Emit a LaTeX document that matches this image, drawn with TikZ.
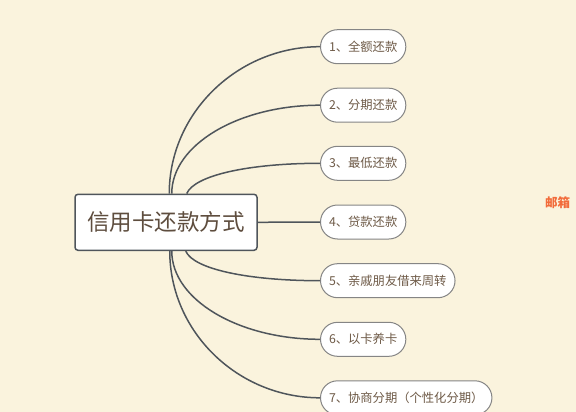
\documentclass[tikz,border=0pt]{standalone}
\usepackage{fontspec}
\newfontfamily\cjk{Noto Sans CJK SC}
\definecolor{bgcol}{HTML}{FAF3DD}
\definecolor{linecol}{HTML}{4F555B}
\definecolor{pillborder}{HTML}{858585}
\definecolor{txtcol}{HTML}{6E5A47}
\definecolor{maintxt}{HTML}{5E4D3E}
\definecolor{wmcol}{HTML}{F26B3A}
\tikzset{
  mainbox/.style={draw=linecol, line width=1.5pt, fill=white, rounded corners=3pt,
    minimum width=182pt, minimum height=56pt, inner sep=0pt,
    font=\cjk\fontsize{22.5pt}{24pt}\selectfont, text=maintxt},
  pill/.style={draw=pillborder, line width=1pt, fill=white, rounded corners=17pt,
    minimum height=34pt, inner xsep=8.5pt, inner ysep=0pt, anchor=west,
    font=\cjk\fontsize{12.3pt}{14pt}\selectfont, text=txtcol},
  conn/.style={draw=linecol, line width=1.5pt},
}
\begin{document}
\begin{tikzpicture}[x=1pt,y=-1pt]
\fill[bgcol] (0,0) rectangle (576,412);
\useasboundingbox (0,0) rectangle (576,412);

\node[mainbox] (c) at (166,222.3) {信用卡还款方式};

\node[pill] (n1) at (320,46.7) {1、全额还款};
\node[pill] (n2) at (320,105.2) {2、分期还款};
\node[pill] (n3) at (320,163.3) {3、最低还款};
\node[pill] (n4) at (320,222) {4、贷款还款};
\node[pill] (n5) at (320,280.7) {5、亲戚朋友借来周转};
\node[pill] (n6) at (320,339.3) {6、以卡养卡};
\node[pill] (n7) at (320,397.8) {7、协商分期（个性化分期）};

% top connectors
\draw[conn] ([xshift=95pt]c.north west) .. controls ([xshift=95pt,yshift=81pt]c.north west) and ([xshift=-82pt]n1.west) .. (n1.west);
\draw[conn] ([xshift=97.5pt]c.north west) .. controls ([xshift=97.5pt,yshift=49pt]c.north west) and ([xshift=-81pt]n2.west) .. (n2.west);
\draw[conn] ([xshift=112.5pt]c.north west) .. controls ([xshift=120pt,yshift=18pt]c.north west) and ([xshift=-72pt]n3.west) .. (n3.west);
% middle
\draw[conn] (c.east) -- (n4.west);
% bottom connectors
\draw[conn] ([xshift=111.5pt]c.south west) .. controls ([xshift=119pt,yshift=-18pt]c.south west) and ([xshift=-72pt]n5.west) .. (n5.west);
\draw[conn] ([xshift=97.5pt]c.south west) .. controls ([xshift=97.5pt,yshift=-49pt]c.south west) and ([xshift=-81pt]n6.west) .. (n6.west);
\draw[conn] ([xshift=95.5pt]c.south west) .. controls ([xshift=95.5pt,yshift=-81pt]c.south west) and ([xshift=-82pt]n7.west) .. (n7.west);

% watermark fragment
\node[font=\cjk\bfseries\fontsize{12.5pt}{14pt}\selectfont, text=wmcol, inner sep=1pt] (wm) at (557.5,203) {邮箱};
\end{tikzpicture}
\end{document}
